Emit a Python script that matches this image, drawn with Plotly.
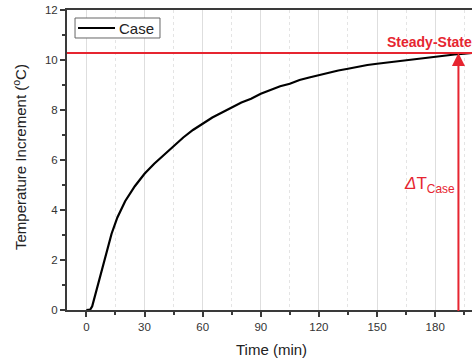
import plotly.graph_objects as go

# Measured temperature rise of the case (minutes, degrees C)
series_name = "Case"
time_min = [0, 2, 3, 5, 7, 10, 13, 16, 20, 25, 30, 35, 40, 45, 50, 55, 60, 65, 70, 75,
            80, 85, 90, 95, 100, 105, 110, 115, 120, 125, 130, 135, 140, 145, 150,
            155, 160, 165, 170, 175, 180, 185, 190, 195, 199]
temp_rise = [0, 0.02, 0.15, 0.75, 1.35, 2.25, 3.05, 3.7, 4.35, 4.95, 5.45, 5.85, 6.2,
             6.55, 6.9, 7.2, 7.45, 7.7, 7.9, 8.1, 8.3, 8.45, 8.65, 8.8, 8.95, 9.05,
             9.2, 9.3, 9.4, 9.5, 9.58, 9.65, 9.73, 9.8, 9.85, 9.9, 9.95, 10.0, 10.05,
             10.1, 10.15, 10.18, 10.22, 10.25, 10.28]

steady_state = 10.28      # plateau level
arrow_time = 192          # where the delta-T arrow is drawn
x_range = [-10, 199]
y_range = [0, 12]
x_ticks = [0, 30, 60, 90, 120, 150, 180]
y_ticks = [0, 2, 4, 6, 8, 10, 12]

RED = "#e62530"
AXIS = "#3a3a3a"
FONT = "Liberation Sans, Arial, sans-serif"

fig = go.Figure()

fig.add_trace(go.Scatter(
    x=time_min, y=temp_rise, mode="lines", name=series_name,
    line=dict(color="black", width=2.2), showlegend=False,
))

# steady-state level
fig.add_shape(type="line", xref="x", yref="y",
              x0=x_range[0], x1=x_range[1], y0=steady_state, y1=steady_state,
              line=dict(color=RED, width=2))

# delta-T arrow from zero up to the steady-state level
fig.add_annotation(x=arrow_time, y=steady_state, ax=arrow_time, ay=-0.1,
                   xref="x", yref="y", axref="x", ayref="y",
                   text="", showarrow=True, arrowhead=2, arrowsize=1.3,
                   arrowwidth=2, arrowcolor=RED, standoff=0)

fig.add_annotation(x=154, y=10.72, xref="x", yref="y", xanchor="left", yanchor="middle",
                   text="<b>Steady-State</b>", showarrow=False,
                   font=dict(family=FONT, size=14, color=RED))

fig.add_annotation(x=191.5, y=5.0, xref="x", yref="y", xanchor="right", yanchor="middle",
                   text="<i>Δ</i>T<sub>Case</sub>", showarrow=False,
                   font=dict(family=FONT, size=17, color=RED))

# compact framed legend in the upper-left corner
fig.add_shape(type="rect", xref="paper", yref="paper",
              x0=0.0198, x1=0.2296, y0=0.9067, y1=0.9733,
              line=dict(color="#666", width=1), fillcolor="white")
fig.add_shape(type="line", xref="paper", yref="paper",
              x0=0.0272, x1=0.1185, y0=0.94, y1=0.94,
              line=dict(color="black", width=2.2))
fig.add_annotation(x=0.1235, y=0.94, xref="paper", yref="paper",
                   xanchor="left", yanchor="middle", text=series_name,
                   showarrow=False, font=dict(family=FONT, size=15, color="#222"))

# axis titles
fig.add_annotation(x=-0.1185, y=0.51, xref="paper", yref="paper", textangle=-90,
                   xanchor="center", yanchor="middle",
                   text="Temperature Increment (<sup>o</sup>C)", showarrow=False,
                   font=dict(family=FONT, size=15, color="#222"))
fig.add_annotation(x=0.504, y=-0.133, xref="paper", yref="paper",
                   xanchor="center", yanchor="middle",
                   text="Time (min)", showarrow=False,
                   font=dict(family=FONT, size=15, color="#222"))

fig.update_layout(
    width=472, height=360,
    margin=dict(l=67, r=0, t=10, b=50),
    paper_bgcolor="white", plot_bgcolor="white",
    font=dict(family=FONT, size=11.5, color="#333"),
    showlegend=False,
    xaxis=dict(range=x_range, tickvals=x_ticks, ticks="outside", ticklen=5,
               tickwidth=1.5, tickcolor=AXIS, showline=True, linecolor=AXIS,
               linewidth=2, mirror=True, showgrid=True, gridcolor="#dedede",
               gridwidth=1, zeroline=False,
               minor=dict(dtick=15, tick0=15, ticks="outside", ticklen=3,
                          tickcolor=AXIS, showgrid=True, gridcolor="#e4e4e4",
                          griddash="dot")),
    yaxis=dict(range=y_range, tickvals=y_ticks, ticks="outside", ticklen=5,
               tickwidth=1.5, tickcolor=AXIS, showline=True, linecolor=AXIS,
               linewidth=2, showgrid=False, zeroline=False,
               minor=dict(dtick=1, tick0=1, ticks="outside", ticklen=3,
                          tickcolor=AXIS, showgrid=False)),
)

fig.write_html("out.html")
